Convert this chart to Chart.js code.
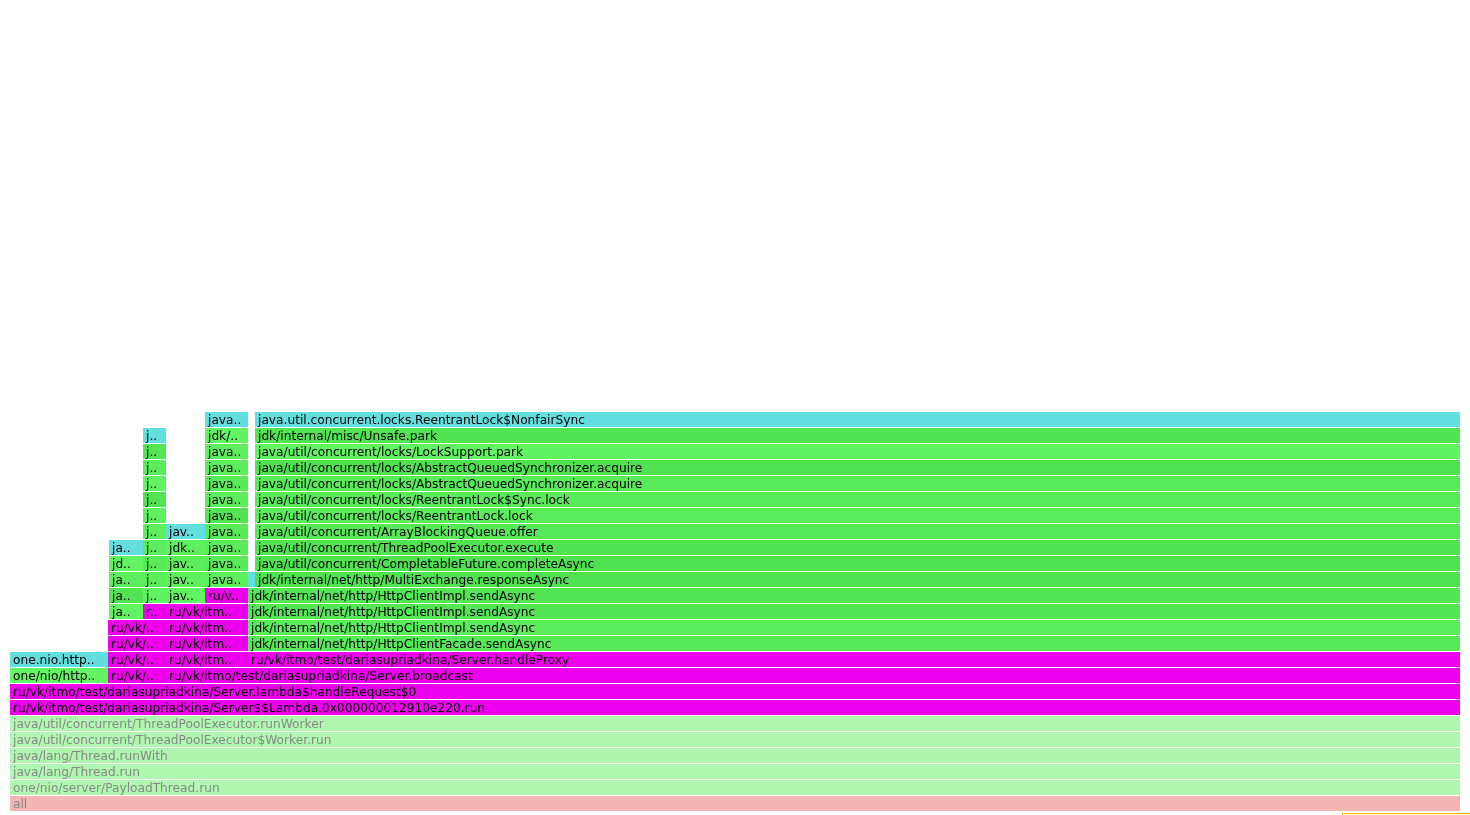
<!DOCTYPE html>
<html>
<head>
<meta charset="utf-8">
<script src="https://cdn.jsdelivr.net/npm/chart.js@4"></script>
<style>
html, body { margin: 0; padding: 0; background: #fff; overflow: hidden; }
#wrap { position: relative; width: 1470px; height: 815px; }
#match { position: absolute; left: 1343px; top: 814px; width: 200px; height: 20px; outline: 1px solid #ffc000; background: #ffffe0; }
</style>
</head>
<body>
<div id="wrap">
  <canvas id="flame" width="1470" height="815"></canvas>
  <div id="match"></div>
</div>
<script>
// ---------------- DATA ----------------
// total sample width of the root frame
const totalSamples = 1450;
const levelCount = 25;

// stack depth of each frame (0 = root "all")
const frameLevels = [
  0, 1, 2, 3, 4, 5, 6, 7,
  8, 8, 8,
  9, 9, 9, 9,
  10, 10, 10,
  11, 11, 11,
  12, 12, 12, 12,
  13, 13, 13, 13, 13,
  14, 14, 14, 14, 14, 14,
  15, 15, 15, 15, 15,
  16, 16, 16, 16, 16,
  17, 17, 17, 17,
  18, 18, 18,
  19, 19, 19,
  20, 20, 20,
  21, 21, 21,
  22, 22, 22,
  23, 23, 23,
  24, 24
];

// first sample of each frame
const frameStarts = [
  0, 0, 0, 0, 0, 0, 0, 0,
  0, 98, 156,
  0, 98, 156, 238,
  98, 156, 238,
  98, 156, 238,
  99, 133, 156, 238,
  99, 133, 156, 195, 238,
  99, 133, 156, 195, 238, 245,
  99, 133, 156, 195, 245,
  99, 133, 156, 195, 245,
  133, 156, 195, 245,
  133, 195, 245,
  133, 195, 245,
  133, 195, 245,
  133, 195, 245,
  133, 195, 245,
  133, 195, 245,
  195, 245
];

// number of samples of each frame
const frameWidths = [
  1450, 1450, 1450, 1450, 1450, 1450, 1450, 1450,
  98, 58, 1294,
  98, 58, 82, 1212,
  58, 82, 1212,
  58, 82, 1212,
  34, 23, 82, 1212,
  34, 23, 39, 43, 1212,
  34, 23, 39, 43, 7, 1205,
  34, 23, 39, 43, 1205,
  34, 23, 39, 43, 1205,
  23, 39, 43, 1205,
  23, 43, 1205,
  23, 43, 1205,
  23, 43, 1205,
  23, 43, 1205,
  23, 43, 1205,
  23, 43, 1205,
  43, 1205
];

// frame titles as shown (narrow frames are shortened with "..")
const frameLabels = [
  'all',
  'one/nio/server/PayloadThread.run',
  'java/lang/Thread.run',
  'java/lang/Thread.runWith',
  'java/util/concurrent/ThreadPoolExecutor$Worker.run',
  'java/util/concurrent/ThreadPoolExecutor.runWorker',
  'ru/vk/itmo/test/dariasupriadkina/Server$$Lambda.0x000000012910e220.run',
  'ru/vk/itmo/test/dariasupriadkina/Server.lambda$handleRequest$0',
  'one/nio/http..', 'ru/vk/..', 'ru/vk/itmo/test/dariasupriadkina/Server.broadcast',
  'one.nio.http..', 'ru/vk/..', 'ru/vk/itm..', 'ru/vk/itmo/test/dariasupriadkina/Server.handleProxy',
  'ru/vk/..', 'ru/vk/itm..', 'jdk/internal/net/http/HttpClientFacade.sendAsync',
  'ru/vk/..', 'ru/vk/itm..', 'jdk/internal/net/http/HttpClientImpl.sendAsync',
  'ja..', 'r..', 'ru/vk/itm..', 'jdk/internal/net/http/HttpClientImpl.sendAsync',
  'ja..', 'j..', 'jav..', 'ru/v..', 'jdk/internal/net/http/HttpClientImpl.sendAsync',
  'ja..', 'j..', 'jav..', 'java..', '', 'jdk/internal/net/http/MultiExchange.responseAsync',
  'jd..', 'j..', 'jav..', 'java..', 'java/util/concurrent/CompletableFuture.completeAsync',
  'ja..', 'j..', 'jdk..', 'java..', 'java/util/concurrent/ThreadPoolExecutor.execute',
  'j..', 'jav..', 'java..', 'java/util/concurrent/ArrayBlockingQueue.offer',
  'j..', 'java..', 'java/util/concurrent/locks/ReentrantLock.lock',
  'j..', 'java..', 'java/util/concurrent/locks/ReentrantLock$Sync.lock',
  'j..', 'java..', 'java/util/concurrent/locks/AbstractQueuedSynchronizer.acquire',
  'j..', 'java..', 'java/util/concurrent/locks/AbstractQueuedSynchronizer.acquire',
  'j..', 'java..', 'java/util/concurrent/locks/LockSupport.park',
  'j..', 'jdk/..', 'jdk/internal/misc/Unsafe.park',
  'java..', 'java.util.concurrent.locks.ReentrantLock$NonfairSync'
];

// frame kind: root, below-focus (thread), java, inlined, search match
const frameTypes = [
  'root', 'thread', 'thread', 'thread', 'thread', 'thread', 'match', 'match',
  'java', 'match', 'match',
  'inlined', 'match', 'match', 'match',
  'match', 'match', 'java',
  'match', 'match', 'java',
  'java', 'match', 'match', 'java',
  'java', 'java', 'java', 'match', 'java',
  'java', 'java', 'java', 'java', 'inlined', 'java',
  'java', 'java', 'java', 'java', 'java',
  'inlined', 'java', 'java', 'java', 'java',
  'java', 'inlined', 'java', 'java',
  'java', 'java', 'java',
  'java', 'java', 'java',
  'java', 'java', 'java',
  'java', 'java', 'java',
  'java', 'java', 'java',
  'inlined', 'java', 'java',
  'inlined', 'inlined'
];

// ---------------- STYLE ----------------
// per-frame colour variation (0..1), as in the profiler's random palette
const frameShade = [
  0.4, 0.55, 0.5, 0.4, 0.55, 0.55, 0, 0,
  0.65, 0, 0,
  0.6, 0, 0, 0,
  0, 0, 0.25,
  0, 0, 0.35,
  0.6, 0, 0, 0.15,
  0.1, 0.55, 0.55, 0, 0.15,
  0.45, 0.4, 0.5, 0.45, 0.6, 0.0,
  0.6, 0.3, 0.4, 0.3, 0.0,
  0.6, 0.4, 0.5, 0.35, 0.05,
  0.45, 0.6, 0.3, 0.25,
  0.5, 0.1, 0.35,
  0.05, 0.4, 0.3,
  0.6, 0.3, 0.3,
  0.35, 0.4, 0.0,
  0.1, 0.45, 0.6,
  0.6, 0.6, 0.1,
  0.6, 0.62
];

function rgb(r, g, b) { return 'rgb(' + Math.round(r) + ',' + Math.round(g) + ',' + Math.round(b) + ')'; }
function faded(r, g, b) { return rgb((r + 255) / 2, (g + 255) / 2, (b + 255) / 2); }
function frameColor(type, v) {
  switch (type) {
    case 'match':   return '#ee00ee';
    case 'inlined': return rgb(80 + 30 * v, 204 + 30 * v, 204 + 30 * v);
    case 'thread':  return faded(80 + 30 * v, 225 + 30 * v, 80 + 30 * v);
    case 'root':    return faded(225 + 30 * v, 90 + 40 * v, 90 + 40 * v);
    default:        return rgb(80 + 30 * v, 225 + 30 * v, 80 + 30 * v);
  }
}

const barColors = frameTypes.map((t, i) => frameColor(t, frameShade[i]));
const FONT = '12.2px Verdana, "DejaVu Sans", sans-serif';

const frameLabelPlugin = {
  id: 'frameLabels',
  afterDatasetsDraw(chart) {
    const ctx = chart.ctx;
    const meta = chart.getDatasetMeta(0);
    ctx.save();
    ctx.font = FONT;
    ctx.textAlign = 'left';
    ctx.textBaseline = 'alphabetic';
    meta.data.forEach((bar, i) => {
      const text = frameLabels[i];
      if (!text) return;
      const p = bar.getProps(['x', 'y', 'base', 'height'], true);
      const left = Math.min(p.x, p.base);
      const w = Math.abs(p.x - p.base);
      const top = p.y - p.height / 2;
      ctx.save();
      ctx.beginPath();
      ctx.rect(left, top, w, p.height);
      ctx.clip();
      const faint = frameTypes[i] === 'thread' || frameTypes[i] === 'root';
      ctx.fillStyle = faint ? '#888888' : '#000000';
      ctx.fillText(text, left + 3, top + 12);
      ctx.restore();
    });
    ctx.restore();
  }
};

new Chart(document.getElementById('flame'), {
  type: 'bar',
  data: {
    datasets: [{
      data: frameLevels.map((lv, i) => ({ y: lv, x: [frameStarts[i], frameStarts[i] + frameWidths[i]] })),
      backgroundColor: barColors,
      borderWidth: 0,
      borderSkipped: false,
      inflateAmount: 0,
      barThickness: 15
    }]
  },
  options: {
    indexAxis: 'y',
    responsive: false,
    devicePixelRatio: 1,
    animation: false,
    events: [],
    layout: { padding: { left: 10, right: 10, top: 412, bottom: 3 } },
    plugins: { legend: { display: false }, tooltip: { enabled: false }, title: { display: false } },
    scales: {
      x: { type: 'linear', min: 0, max: totalSamples, offset: false, bounds: 'data', display: false, grid: { display: false } },
      y: { type: 'linear', min: -0.53125, max: levelCount - 0.53125, offset: false, bounds: 'data', display: false, grid: { display: false, offset: false } }
    }
  },
  plugins: [frameLabelPlugin]
});
</script>
</body>
</html>
